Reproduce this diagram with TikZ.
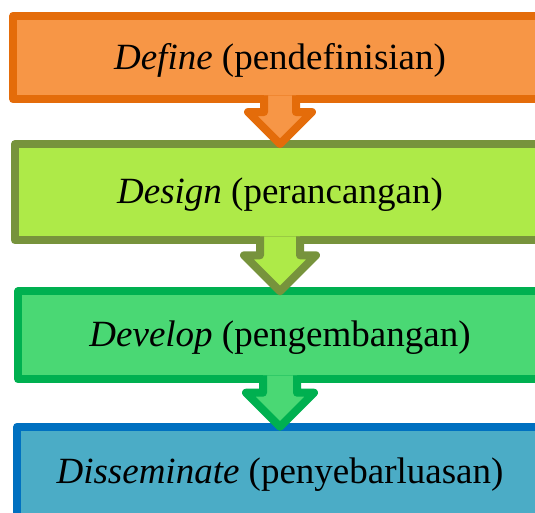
\documentclass[tikz,border=0pt]{standalone}
\usepackage{fontspec}
\setmainfont{Liberation Serif}
\usetikzlibrary{calc}

\definecolor{filldefine}{HTML}{F79646}
\definecolor{linedefine}{HTML}{E46C0A}
\definecolor{filldesign}{HTML}{AEEA48}
\definecolor{linedesign}{HTML}{77933C}
\definecolor{filldevelop}{HTML}{4AD874}
\definecolor{linedevelop}{HTML}{00B050}
\definecolor{filldisseminate}{HTML}{4BACC6}
\definecolor{linedisseminate}{HTML}{0070C0}

\tikzset{
  stage/.style={draw, line width=8pt, line join=round, outer sep=0pt,
    inner sep=0pt, text height=32pt, text depth=9pt,
    font=\fontsize{37}{44}\selectfont},
  block arrow/.style={line width=8pt, line join=round}
}

\begin{document}
\begin{tikzpicture}[x=1pt, y=-1pt]
\useasboundingbox (0,0) rectangle (535,512);
\node[stage, fill=filldefine, draw=linedefine,
  minimum width=533.4pt, minimum height=83.6pt] (define) at (280,57.5)
  {\textit{Define} (pendefinisian)};
\node[stage, fill=filldesign, draw=linedesign,
  minimum width=530pt, minimum height=96.3pt] (design) at (280,192.2)
  {\textit{Design} (perancangan)};
\node[stage, fill=filldevelop, draw=linedevelop,
  minimum width=523.4pt, minimum height=88pt] (develop) at (280,335.3)
  {\textit{Develop} (pengembangan)};
\node[stage, fill=filldisseminate, draw=linedisseminate,
  minimum width=525.4pt, minimum height=90pt] (disseminate) at (280,471.7)
  {\textit{Disseminate} (penyebarluasan)};
% block arrows between the stages
\foreach \from/\to/\w/\h in {define/design/16pt/32pt,
    design/develop/20pt/36pt, develop/disseminate/17pt/34pt}{
  \fill[fill\from] let \p1=(\from.south), \p2=(\to.north) in
    (\x2-\w,\y1+4pt) -- (\x2-\w,\y2+\h) -- (\x2-\h,\y2+\h) -- (\x2,\y2)
    -- (\x2+\h,\y2+\h) -- (\x2+\w,\y2+\h) -- (\x2+\w,\y1+4pt) -- cycle;
  \draw[block arrow, draw=line\from] let \p1=(\from.south), \p2=(\to.north) in
    (\x2-\w,\y1+4pt) -- (\x2-\w,\y2+\h) -- (\x2-\h,\y2+\h) -- (\x2,\y2)
    -- (\x2+\h,\y2+\h) -- (\x2+\w,\y2+\h) -- (\x2+\w,\y1+4pt);
}
\end{tikzpicture}
\end{document}
